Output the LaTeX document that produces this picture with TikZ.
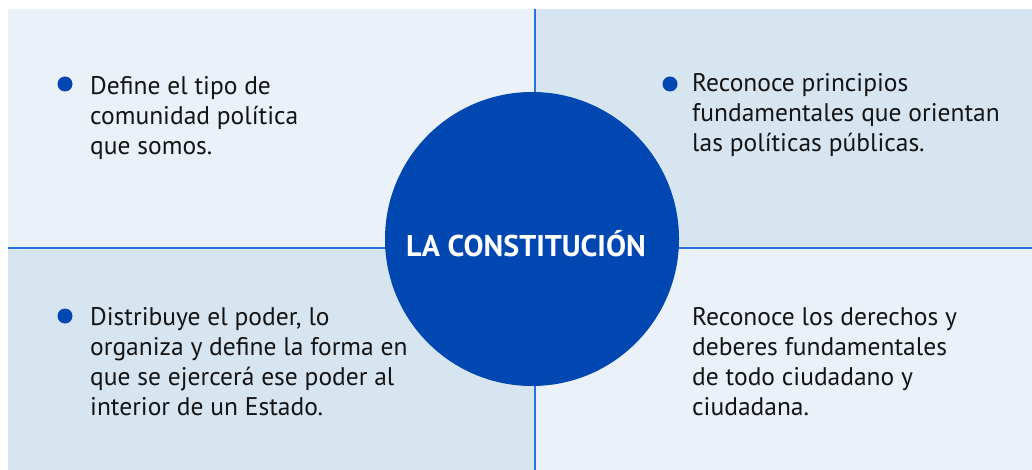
\documentclass[tikz,border=0pt]{standalone}
\usepackage{fontspec}
\setmainfont{PT Sans}
\usepackage{tikz}
\usetikzlibrary{positioning}
\definecolor{constblue}{RGB}{0, 71, 178}
\definecolor{constline}{RGB}{38, 114, 224}
\definecolor{constlight}{RGB}{234, 241, 248}
\definecolor{constpale}{RGB}{215, 229, 241}

\begin{document}
\begin{tikzpicture}[x=1pt, y=-1pt,
        divisor/.style={draw=constline, line width=2.4pt},
        texto/.style={anchor=base west, inner sep=0pt, align=left, text=black!92, font=\fontsize{25.5}{30}\selectfont},
        punto/.style={circle, fill=constblue, inner sep=0pt, minimum size=15pt},
        centro/.style={circle, fill=constblue, inner sep=0pt, minimum size=294pt},
        titulo/.style={anchor=base, inner sep=0pt, text=white, font=\bfseries\fontsize{30}{30}\selectfont}
    ]
        \useasboundingbox (0,0) rectangle (1032,470);
        % cuadrantes
        \fill[constlight] (8,9) rectangle (535,248);
        \fill[constpale] (535,9) rectangle (1032,248);
        \fill[constpale] (8,248) rectangle (535,470);
        \fill[constlight] (535,248) rectangle (1032,470);
        \coordinate (arriba) at (535,9);
        \coordinate (abajo) at (535,470);
        \coordinate (izq) at (8,248);
        \coordinate (der) at (1032,248);
        \draw[divisor] (arriba) -- (abajo);
        \draw[divisor] (izq) -- (der);
        % centro
        \node[centro] (const) at (532,239) {};
        \node[titulo] (tit) at (526,256) {LA CONSTITUCIÓN};
        % textos (base = ultima linea)
        \node[texto] (a) at (90,155) {Define el tipo de\\comunidad política\\que somos.};
        \node[texto] (b) at (692,152) {Reconoce principios\\fundamentales que orientan\\las políticas públicas.};
        \node[texto] (c) at (90,415) {Distribuye el poder, lo\\organiza y define la forma en\\que se ejercerá ese poder al\\interior de un Estado.};
        \node[texto] (d) at (692,415) {Reconoce los derechos y\\deberes fundamentales\\de todo ciudadano y\\ciudadana.};
        \node[punto] (pa) at (65,84) {};
        \node[punto] (pb) at (670,84) {};
        \node[punto] (pc) at (65,316) {};
    \end{tikzpicture}
\end{document}
